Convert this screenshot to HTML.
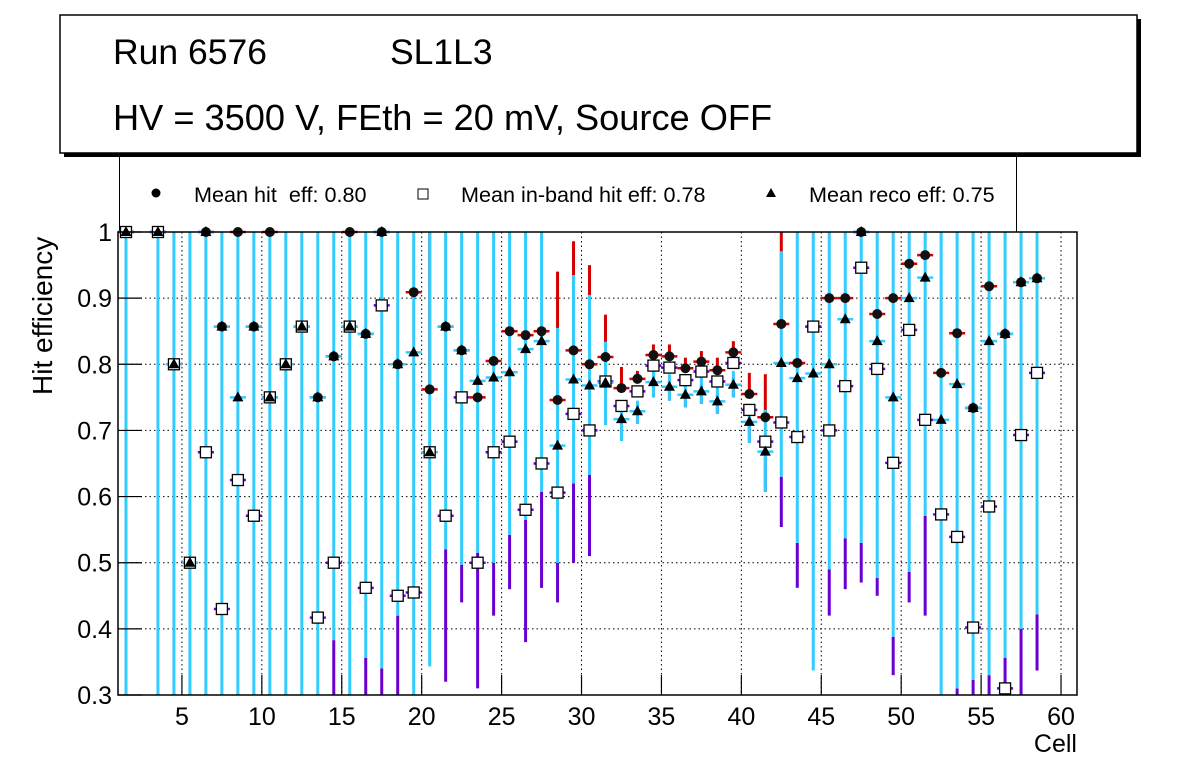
<!DOCTYPE html>
<html><head><meta charset="utf-8"><style>
body{margin:0;background:#fff;width:1196px;height:772px;overflow:hidden}
svg text{font-family:"Liberation Sans",sans-serif}
</style></head><body>
<svg id="c" width="1196" height="772" xmlns="http://www.w3.org/2000/svg">
<rect x="64" y="19" width="1077" height="138" fill="#000"/>
<rect x="60" y="15" width="1077" height="138" fill="#fff" stroke="#000" stroke-width="1.5"/>
<text x="113" y="64" font-size="35.5">Run 6576</text>
<text x="390" y="64" font-size="35.5">SL1L3</text>
<text x="113" y="130" font-size="36.2">HV = 3500 V, FEth = 20 mV, Source OFF</text>
<g>
<rect x="119.5" y="157" width="897" height="75" fill="#fff" stroke="none"/>
<line x1="119.5" y1="157" x2="119.5" y2="232" stroke="#000"/>
<line x1="1016.5" y1="157" x2="1016.5" y2="232" stroke="#000"/>
<circle cx="156" cy="193" r="4.5" fill="#000"/>
<text x="194" y="202" font-size="21.6" xml:space="preserve" style="white-space:pre">Mean hit  eff: 0.80</text>
<rect x="418" y="189" width="10" height="10" fill="#fff" stroke="#000"/>
<text x="461" y="202" font-size="21.6">Mean in-band hit eff: 0.78</text>
<polygon points="771,188 776,197 766,197" fill="#000"/>
<text x="809" y="202" font-size="21.6">Mean reco eff: 0.75</text>
</g>
<g id="plot"></g>
<text transform="translate(52,395) rotate(-90)" font-size="28">Hit efficiency</text>
<text x="1077" y="752" font-size="25" text-anchor="end">Cell</text>
</svg>
<script>
const hit=[1,null,1,0.8,0.5,1,0.857,1,0.857,1,0.8,0.857,0.75,0.812,1,0.846,1,0.8,0.909,0.762,0.857,0.821,0.75,0.805,0.85,0.844,0.85,0.746,0.821,0.8,0.811,0.764,0.778,0.814,0.812,0.794,0.804,0.791,0.818,0.755,0.72,0.861,0.802,0.857,0.9,0.9,1,0.876,0.9,0.952,0.965,0.787,0.847,0.734,0.918,0.846,0.924,0.93];
const inband=[1,null,1,0.8,0.5,0.667,0.43,0.625,0.571,0.75,0.8,0.857,0.417,0.5,0.857,0.462,0.889,0.45,0.455,0.667,0.571,0.75,0.5,0.667,0.683,0.58,0.65,0.606,0.725,0.7,0.774,0.737,0.759,0.798,0.795,0.776,0.789,0.774,0.802,0.731,0.683,0.712,0.69,0.857,0.7,0.767,0.946,0.793,0.651,0.852,0.716,0.573,0.539,0.402,0.585,0.31,0.693,0.787];
const reco=[1,null,1,0.8,0.5,1,0.857,0.75,0.857,0.75,0.8,0.857,0.75,0.812,0.857,0.846,1,0.8,0.818,0.667,0.857,0.821,0.775,0.78,0.788,0.823,0.835,0.677,0.777,0.768,0.772,0.717,0.729,0.773,0.766,0.754,0.759,0.744,0.769,0.713,0.668,0.802,0.779,0.786,0.8,0.868,1,0.835,0.75,0.9,0.931,0.716,0.77,0.734,0.835,0.846,0.924,0.93];
const recoErrLo=[0.3,null,0.3,0.3,0.3,0.3,0.3,0.3,0.3,0.3,0.3,0.3,0.3,0.383,0.3,0.356,0.34,0.42,0.3,0.343,0.52,0.497,0.515,0.5,0.542,0.565,0.607,0.5,0.62,0.633,0.708,0.684,0.71,0.75,0.745,0.735,0.74,0.725,0.75,0.681,0.607,0.63,0.53,0.337,0.49,0.537,0.53,0.477,0.388,0.486,0.571,0.3,0.31,0.323,0.33,0.356,0.4,0.422];
const recoErrHi=[1,null,1,1,1,1,1,1,1,1,1,1,1,1,1,1,1,1,1,1,1,1,1,1,1,1,1,0.855,0.935,0.905,0.834,0.74,0.745,0.79,0.785,0.775,0.78,0.765,0.79,0.74,0.731,0.971,1,1,1,1,1,1,1,1,1,1,1,1,1,1,1,1];
const inbandErrLo=[0.3,null,0.3,0.3,0.3,0.3,0.3,0.3,0.3,0.3,0.3,0.3,0.3,0.3,0.3,0.3,0.3,0.3,0.3,0.343,0.32,0.44,0.31,0.42,0.46,0.38,0.462,0.44,0.5,0.51,0.76,0.72,0.74,0.78,0.775,0.76,0.77,0.755,0.78,0.715,0.66,0.554,0.462,0.337,0.42,0.46,0.47,0.45,0.33,0.44,0.42,0.3,0.3,0.3,0.3,0.3,0.3,0.337];
const hitErrHi=[null,null,null,null,null,null,null,null,null,null,null,null,null,null,null,null,null,null,null,1,null,null,null,null,null,null,null,0.94,0.986,0.95,0.875,0.796,0.79,0.83,0.83,0.81,0.82,0.81,0.835,0.787,0.785,1,null,null,null,null,null,null,null,null,null,null,null,null,null,null,null,null];
const xTicks=[5,10,15,20,25,30,35,40,45,50,55,60];
const yTicks=[0.3,0.4,0.5,0.6,0.7,0.8,0.9,1];
const yTickLabels=["0.3","0.4","0.5","0.6","0.7","0.8","0.9","1"];

const X0=118,X1=1077,Y0=232,Y1=695,XMIN=1,XMAX=61,YMIN=0.3,YMAX=1;
const sx=v=>X0+(v-XMIN)/(XMAX-XMIN)*(X1-X0);
const sy=v=>Y1-(Math.max(YMIN,Math.min(YMAX,v))-YMIN)/(YMAX-YMIN)*(Y1-Y0);
const NS="http://www.w3.org/2000/svg";
const g=document.getElementById('plot');
function mk(tag,at,parent){const e=document.createElementNS(NS,tag);for(const k in at)e.setAttribute(k,at[k]);(parent||g).appendChild(e);return e;}

const grid=mk('g',{});


xTicks.forEach(t=>{mk('line',{x1:sx(t),x2:sx(t),y1:Y0,y2:Y1,stroke:'#000','stroke-dasharray':'1.5,3','stroke-width':1},grid);});
yTicks.forEach(t=>{mk('line',{x1:X0,x2:X1,y1:sy(t),y2:sy(t),stroke:'#000','stroke-dasharray':'1.5,3','stroke-width':1},grid);});

const bars=mk('g',{});


for(let i=0;i<hit.length;i++){
  if(hit[i]===null)continue;
  const x=sx(i+1.5);
  if(hitErrHi[i]!==null){mk('line',{x1:x,x2:x,y1:sy(hitErrHi[i]),y2:sy(hit[i]),stroke:'#d40000','stroke-width':3},bars);}
  mk('line',{x1:x,x2:x,y1:sy(recoErrLo[i]),y2:sy(inbandErrLo[i]),stroke:'#6a00d0','stroke-width':3},bars);
  mk('line',{x1:x,x2:x,y1:sy(recoErrHi[i]),y2:sy(recoErrLo[i]),stroke:'#33ccff','stroke-width':3},bars);
  mk('line',{x1:x-8,x2:x+8,y1:sy(hit[i]),y2:sy(hit[i]),stroke:'#d40000','stroke-width':2.5},bars);
  mk('line',{x1:x-8,x2:x+8,y1:sy(inband[i]),y2:sy(inband[i]),stroke:'#6a00d0','stroke-width':2.5},bars);
  mk('line',{x1:x-8,x2:x+8,y1:sy(reco[i]),y2:sy(reco[i]),stroke:'#33ccff','stroke-width':2.5},bars);
}
for(let i=0;i<hit.length;i++){
  if(hit[i]===null)continue;
  const x=sx(i+1.5);
  const c=mk('circle',{cx:x,cy:sy(hit[i]),r:5,fill:'#111'});
  
  
  const s=mk('rect',{x:x-5.5,y:sy(inband[i])-5.5,width:11,height:11,fill:'#fff',stroke:'#000','stroke-width':1.3});
  
  
  const ty=sy(reco[i]);
  const t=mk('polygon',{points:`${x},${ty-6} ${x+5.5},${ty+4} ${x-5.5},${ty+4}`,fill:'#000'});
  
  
}
const fr=mk('rect',{x:X0,y:Y0,width:X1-X0,height:Y1-Y0,fill:'none',stroke:'#000','stroke-width':1.5});


yTicks.forEach((t,k)=>{
  mk('line',{x1:X0,x2:X0+24,y1:sy(t),y2:sy(t),stroke:'#000','stroke-width':1.2});
  const l=mk('text',{x:112,y:sy(t)+9,'font-size':25,'text-anchor':'end'});
  l.textContent=yTickLabels[k];
  
  
});
xTicks.forEach(t=>{
  mk('line',{x1:sx(t),x2:sx(t),y1:Y1,y2:Y1-20,stroke:'#000','stroke-width':1.2});
  const l=mk('text',{x:sx(t),y:725,'font-size':25,'text-anchor':'middle'});
  l.textContent=String(t);
  
  
});
</script>
</body></html>
